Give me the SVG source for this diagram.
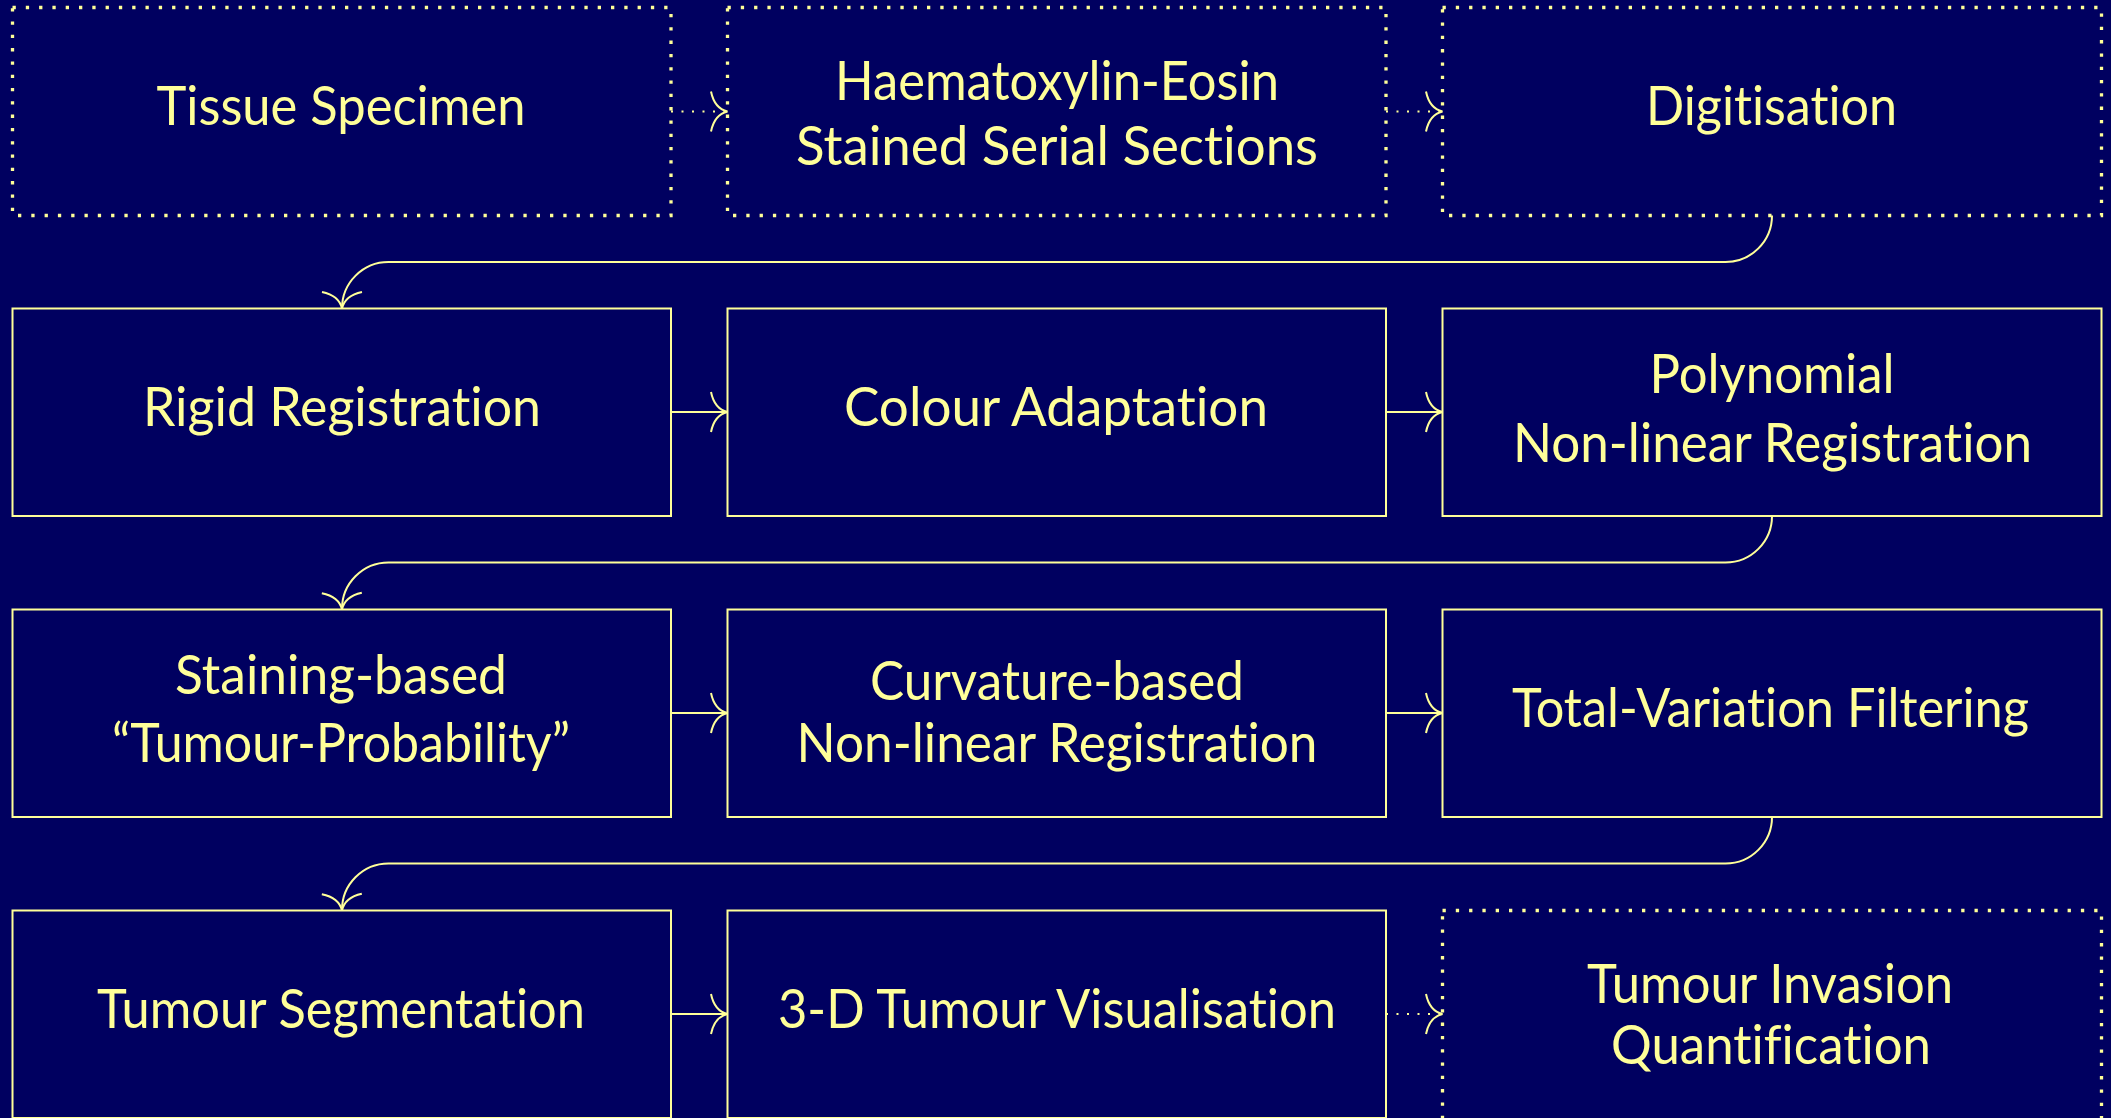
<svg xmlns="http://www.w3.org/2000/svg" width="2111" height="1118" viewBox="0 0 2111 1118">
<style>
.box{fill:none;stroke:#FFFF99;stroke-width:2}
.dbox{fill:none;stroke:#FFFF99;stroke-width:3.3;stroke-dasharray:3.3 10}
.lbl{font-family:Lato,"Noto Sans","DejaVu Sans",sans-serif;font-size:54px;font-weight:400;font-variant-ligatures:none;fill:#FFFF99;text-anchor:middle}
.c{fill:none;stroke:#FFFF99;stroke-width:2;marker-end:url(#ah)}
.cd{fill:none;stroke:#FFFF99;stroke-width:2;stroke-dasharray:2 8.5;marker-end:url(#ah)}
</style>
<defs>
<marker id="ah" markerUnits="userSpaceOnUse" markerWidth="40" markerHeight="50" viewBox="-20 -25 40 50" refX="0" refY="0" orient="auto" overflow="visible">
<path d="M-16.5,-20 Q-13,-3 0,0 Q-13,3 -16.5,20" fill="none" stroke="#FFFF99" stroke-width="2"/>
</marker>
</defs>
<rect x="0" y="0" width="2111" height="1118" fill="#000060"/>

<g id="n1"><rect class="dbox" x="12.5" y="7.5" width="658.5" height="208"/><text class="lbl" x="341" y="125" textLength="369" lengthAdjust="spacingAndGlyphs">Tissue Specimen</text></g>
<g id="n2"><rect class="dbox" x="727.5" y="7.5" width="658.5" height="208"/><text class="lbl" x="1057" y="100" textLength="444" lengthAdjust="spacingAndGlyphs">Haematoxylin-Eosin</text><text class="lbl" x="1057" y="165" textLength="522" lengthAdjust="spacingAndGlyphs">Stained Serial Sections</text></g>
<g id="n3"><rect class="dbox" x="1442.5" y="7.5" width="659" height="208"/><text class="lbl" x="1771.5" y="125" textLength="251" lengthAdjust="spacingAndGlyphs">Digitisation</text></g>

<g id="n4"><rect class="box" x="12.5" y="308.5" width="658.5" height="207.5"/><text class="lbl" x="342" y="426" textLength="398" lengthAdjust="spacingAndGlyphs">Rigid Registration</text></g>
<g id="n5"><rect class="box" x="727.5" y="308.5" width="658.5" height="207.5"/><text class="lbl" x="1056" y="426" textLength="424" lengthAdjust="spacingAndGlyphs">Colour Adaptation</text></g>
<g id="n6"><rect class="box" x="1442.5" y="308.5" width="659" height="207.5"/><text class="lbl" x="1772" y="393" textLength="245" lengthAdjust="spacingAndGlyphs">Polynomial</text><text class="lbl" x="1772.5" y="462" textLength="519" lengthAdjust="spacingAndGlyphs">Non-linear Registration</text></g>

<g id="n7"><rect class="box" x="12.5" y="609.5" width="658.5" height="207.5"/><text class="lbl" x="341" y="694" textLength="332" lengthAdjust="spacingAndGlyphs">Staining-based</text><text class="lbl" x="341" y="762" textLength="458" lengthAdjust="spacingAndGlyphs">“Tumour-Probability”</text></g>
<g id="n8"><rect class="box" x="727.5" y="609.5" width="658.5" height="207.5"/><text class="lbl" x="1057" y="700" textLength="374" lengthAdjust="spacingAndGlyphs">Curvature-based</text><text class="lbl" x="1057" y="762" textLength="521" lengthAdjust="spacingAndGlyphs">Non-linear Registration</text></g>
<g id="n9"><rect class="box" x="1442.5" y="609.5" width="659" height="207.5"/><text class="lbl" x="1770.5" y="727" textLength="517" lengthAdjust="spacingAndGlyphs">Total-Variation Filtering</text></g>

<g id="n10"><rect class="box" x="12.5" y="910.5" width="658.5" height="207.5"/><text class="lbl" x="341" y="1028" textLength="488" lengthAdjust="spacingAndGlyphs">Tumour Segmentation</text></g>
<g id="n11"><rect class="box" x="727.5" y="910.5" width="658.5" height="207.5"/><text class="lbl" x="1057" y="1028" textLength="558" lengthAdjust="spacingAndGlyphs">3-D Tumour Visualisation</text></g>
<g id="n12"><rect class="dbox" x="1442.5" y="910.5" width="659" height="210"/><text class="lbl" x="1770" y="1003" textLength="366" lengthAdjust="spacingAndGlyphs">Tumour Invasion</text><text class="lbl" x="1771" y="1064" textLength="320" lengthAdjust="spacingAndGlyphs">Quantification</text></g>

<g id="connectors">
<path class="cd" d="M671,111.5 H727.5"/>
<path class="cd" d="M1386,111.5 H1442.5"/>
<path class="c" d="M1772,215.5 A46.5,46.5 0 0 1 1725.5,262 H388.5 A46.5,46.5 0 0 0 342,308.5"/>
<path class="c" d="M671,412 H727.5"/>
<path class="c" d="M1386,412 H1442.5"/>
<path class="c" d="M1772,516 A46.5,46.5 0 0 1 1725.5,562.5 H388.5 A46.5,46.5 0 0 0 342,609.5"/>
<path class="c" d="M671,713 H727.5"/>
<path class="c" d="M1386,713 H1442.5"/>
<path class="c" d="M1772,817 A46.5,46.5 0 0 1 1725.5,863.5 H388.5 A46.5,46.5 0 0 0 342,910.5"/>
<path class="c" d="M671,1014 H727.5"/>
<path class="cd" d="M1386,1014 H1442.5"/>
</g>
</svg>
